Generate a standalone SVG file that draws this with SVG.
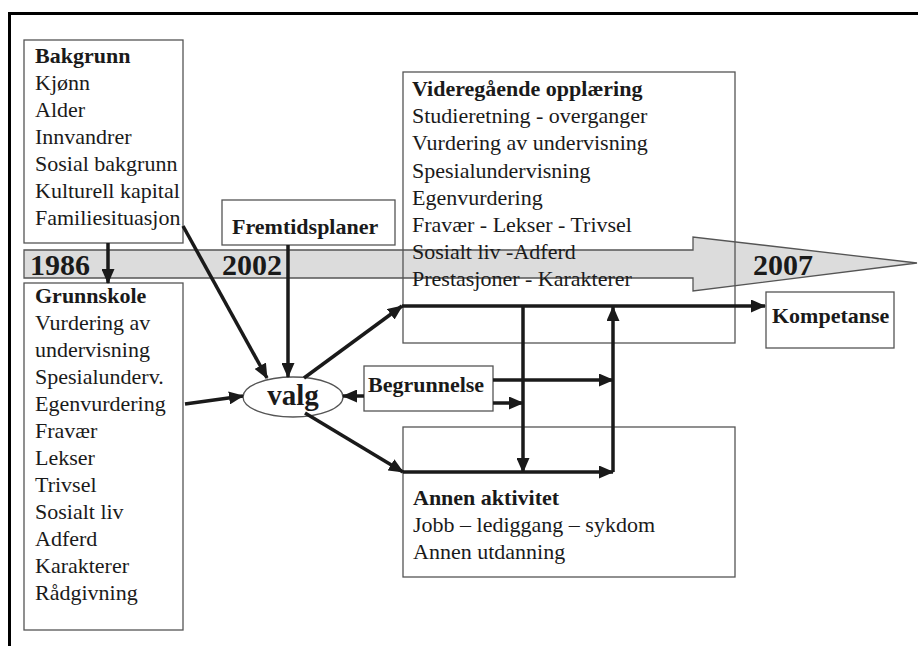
<svg xmlns="http://www.w3.org/2000/svg" width="918" height="646" viewBox="0 0 918 646">
<defs>
<marker id="ah" markerUnits="userSpaceOnUse" markerWidth="15" markerHeight="13" refX="14" refY="6.5" orient="auto">
<path d="M0,0 L15,6.5 L0,13 z" fill="#1a1a1a"/>
</marker>
<style>
.box{fill:#fff;stroke:#555;stroke-width:1.3}
.boxn{fill:none;stroke:#555;stroke-width:1.3}
.t{font-family:"Liberation Serif","Times New Roman",serif;font-size:22px;fill:#1a1a1a}
.b{font-weight:bold}
.yr{font-family:"Liberation Serif","Times New Roman",serif;font-size:30px;font-weight:bold;fill:#1a1a1a}
.c{stroke:#1a1a1a;stroke-width:3.5;fill:none}
.ca{stroke:#1a1a1a;stroke-width:3.5;fill:none;marker-end:url(#ah)}
</style>
</defs>
<rect width="918" height="646" fill="#fff"/>
<g id="frame">
<line x1="9.5" y1="12" x2="9.5" y2="646" stroke="#000" stroke-width="3"/>
<line x1="8" y1="13.5" x2="918" y2="13.5" stroke="#000" stroke-width="3"/>
</g>
<g id="timeline">
<polygon points="24,250 693,250 693,237 917,263 693,291 693,278 24,278" fill="#dcdcdc" stroke="#555" stroke-width="1.3"/>
<text class="yr" x="30" y="275">1986</text>
<text class="yr" x="222" y="275">2002</text>
<text class="yr" x="753" y="275">2007</text>
</g>
<g id="bakgrunn">
<rect class="box" x="24" y="40" width="159" height="203"/>
<text class="t b" x="35" y="63">Bakgrunn</text>
<text class="t" x="35" y="90">Kjønn</text>
<text class="t" x="35" y="117">Alder</text>
<text class="t" x="35" y="144">Innvandrer</text>
<text class="t" x="35" y="171">Sosial bakgrunn</text>
<text class="t" x="35" y="198">Kulturell kapital</text>
<text class="t" x="35" y="225">Familiesituasjon</text>
</g>
<g id="grunnskole">
<rect class="box" x="24" y="283" width="159" height="347"/>
<text class="t b" x="35" y="303">Grunnskole</text>
<text class="t" x="35" y="330">Vurdering av</text>
<text class="t" x="35" y="357">undervisning</text>
<text class="t" x="35" y="384">Spesialunderv.</text>
<text class="t" x="35" y="411">Egenvurdering</text>
<text class="t" x="35" y="438">Fravær</text>
<text class="t" x="35" y="465">Lekser</text>
<text class="t" x="35" y="492">Trivsel</text>
<text class="t" x="35" y="519">Sosialt liv</text>
<text class="t" x="35" y="546">Adferd</text>
<text class="t" x="35" y="573">Karakterer</text>
<text class="t" x="35" y="600">Rådgivning</text>
</g>
<g id="fremtidsplaner">
<rect class="box" x="222" y="200" width="173" height="45"/>
<text class="t b" x="232" y="234">Fremtidsplaner</text>
</g>
<g id="videregaende">
<rect class="boxn" x="403" y="72" width="332" height="271"/>
<text class="t b" x="412" y="96">Videregående opplæring</text>
<text class="t" x="412" y="123">Studieretning - overganger</text>
<text class="t" x="412" y="150">Vurdering av undervisning</text>
<text class="t" x="412" y="178">Spesialundervisning</text>
<text class="t" x="412" y="205">Egenvurdering</text>
<text class="t" x="412" y="232">Fravær - Lekser - Trivsel</text>
<text class="t" x="412" y="259">Sosialt liv -Adferd</text>
<text class="t" x="412" y="286">Prestasjoner - Karakterer</text>
</g>
<g id="kompetanse">
<rect class="box" x="766" y="292" width="128" height="56"/>
<text class="t b" x="772" y="323">Kompetanse</text>
</g>
<g id="begrunnelse">
<rect class="box" x="364" y="366" width="129" height="45"/>
<text class="t b" x="368" y="392">Begrunnelse</text>
</g>
<g id="annen">
<rect class="box" x="403" y="427" width="332" height="150"/>
<text class="t b" x="413" y="505">Annen aktivitet</text>
<text class="t" x="413" y="532">Jobb – lediggang – sykdom</text>
<text class="t" x="413" y="559">Annen utdanning</text>
</g>
<g id="valg">
<ellipse cx="293" cy="397" rx="50" ry="20" fill="#fff" stroke="#555" stroke-width="1.3"/>
<text class="yr" x="293" y="405" text-anchor="middle" style="font-size:29px">valg</text>
</g>
<g id="connectors">
<line class="ca" x1="108" y1="243" x2="108" y2="283"/>
<line class="ca" x1="183" y1="226" x2="267" y2="378"/>
<line class="ca" x1="288" y1="245" x2="288" y2="377"/>
<line class="ca" x1="185" y1="404" x2="243" y2="396"/>
<line class="ca" x1="364" y1="396" x2="343" y2="396"/>
<line class="ca" x1="304" y1="378" x2="402" y2="306"/>
<line class="ca" x1="305" y1="413" x2="403" y2="472"/>
<line class="ca" x1="402" y1="306" x2="765" y2="306"/>
<line class="ca" x1="523" y1="306" x2="523" y2="472"/>
<line class="ca" x1="403" y1="472" x2="613" y2="472"/>
<line class="ca" x1="613" y1="472" x2="613" y2="307"/>
<line class="ca" x1="493" y1="380" x2="613" y2="380"/>
<line class="ca" x1="493" y1="403" x2="523" y2="403"/>
</g>
</svg>
